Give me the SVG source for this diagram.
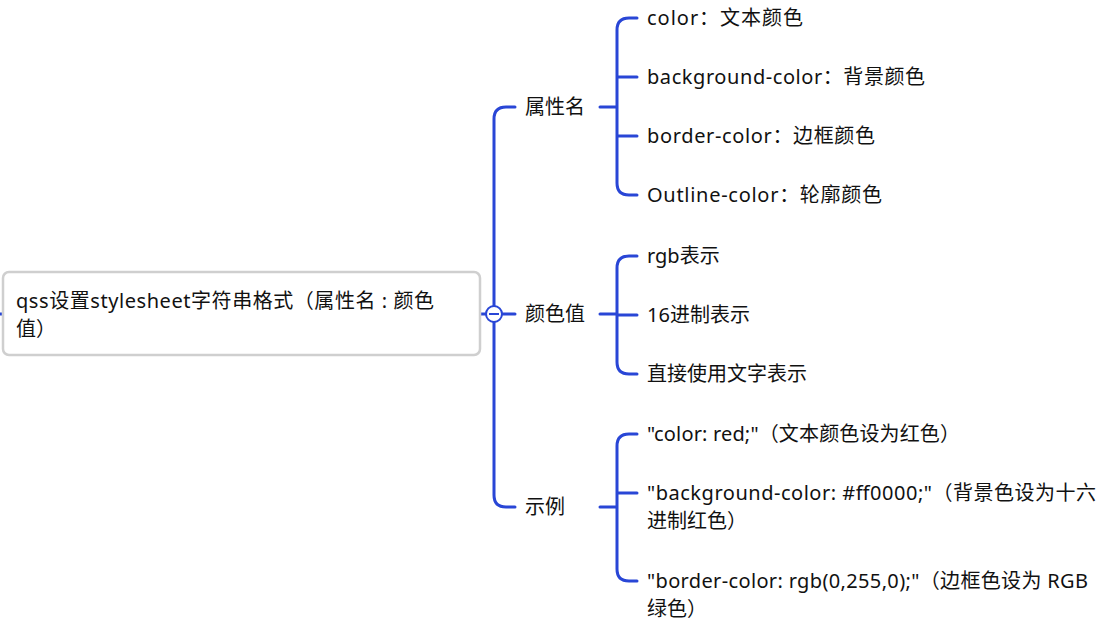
<svg xmlns="http://www.w3.org/2000/svg" width="1107" height="625" viewBox="0 0 1107 625">
<style>
text{font-family:"Noto Sans","Noto Sans CJK SC",sans-serif;font-size:20px;fill:#111}
.c{fill:none;stroke:#2946d6;stroke-width:3;stroke-linecap:round}
</style>
<rect width="1107" height="625" fill="#fff"/>
<g id="connectors">
<path class="c" d="M0 314H8"/>
<path class="c" d="M480 314H486"/>
<path class="c" d="M515 107H506Q494 107 494 119V495Q494 507 506 507H515M502 314H515"/>
<path class="c" d="M600 107H617M637 18H629Q617 18 617 30V183Q617 195 629 195H637M617 77Q617 77 637 77M637 136H617"/>
<path class="c" d="M600 314H617M637 256H629Q617 256 617 268V362Q617 374 629 374H637M617 315H637"/>
<path class="c" d="M600 507H617M637 434H629Q617 434 617 446V569Q617 581 629 581H637M617 493H637"/>
<circle cx="494" cy="314" r="8" fill="#fff" stroke="#2946d6" stroke-width="2"/>
<path d="M489 314H499" stroke="#2946d6" stroke-width="2"/>
</g>
<g id="root"><rect x="3" y="272" width="477" height="83" rx="6" fill="#fff" stroke="#cfcfcf" stroke-width="2.5"/>
<text x="16" y="308" textLength="418">qss设置stylesheet字符串格式（属性名 : 颜色</text><text x="16" y="336">值）</text></g>
<g id="n1"><text x="525" y="114">属性名</text></g>
<g id="n2"><text x="525" y="321">颜色值</text></g>
<g id="n3"><text x="525" y="514">示例</text></g>
<g id="n1a"><text x="647" y="25" textLength="156">color：文本颜色</text></g>
<g id="n1b"><text x="647" y="84" textLength="278">background-color：背景颜色</text></g>
<g id="n1c"><text x="647" y="143" textLength="228">border-color：边框颜色</text></g>
<g id="n1d"><text x="647" y="202" textLength="235">Outline-color：轮廓颜色</text></g>
<g id="n2a"><text x="647" y="263">rgb表示</text></g>
<g id="n2b"><text x="647" y="322">16进制表示</text></g>
<g id="n2c"><text x="647" y="381">直接使用文字表示</text></g>
<g id="n3a"><text x="647" y="441" textLength="313">"color: red;"（文本颜色设为红色）</text></g>
<g id="n3b"><text x="647" y="500" textLength="449">"background-color: #ff0000;"（背景色设为十六</text><text x="647" y="528">进制红色）</text></g>
<g id="n3c"><text x="647" y="588" textLength="441">"border-color: rgb(0,255,0);"（边框色设为 RGB</text><text x="647" y="616">绿色）</text></g>
</svg>
